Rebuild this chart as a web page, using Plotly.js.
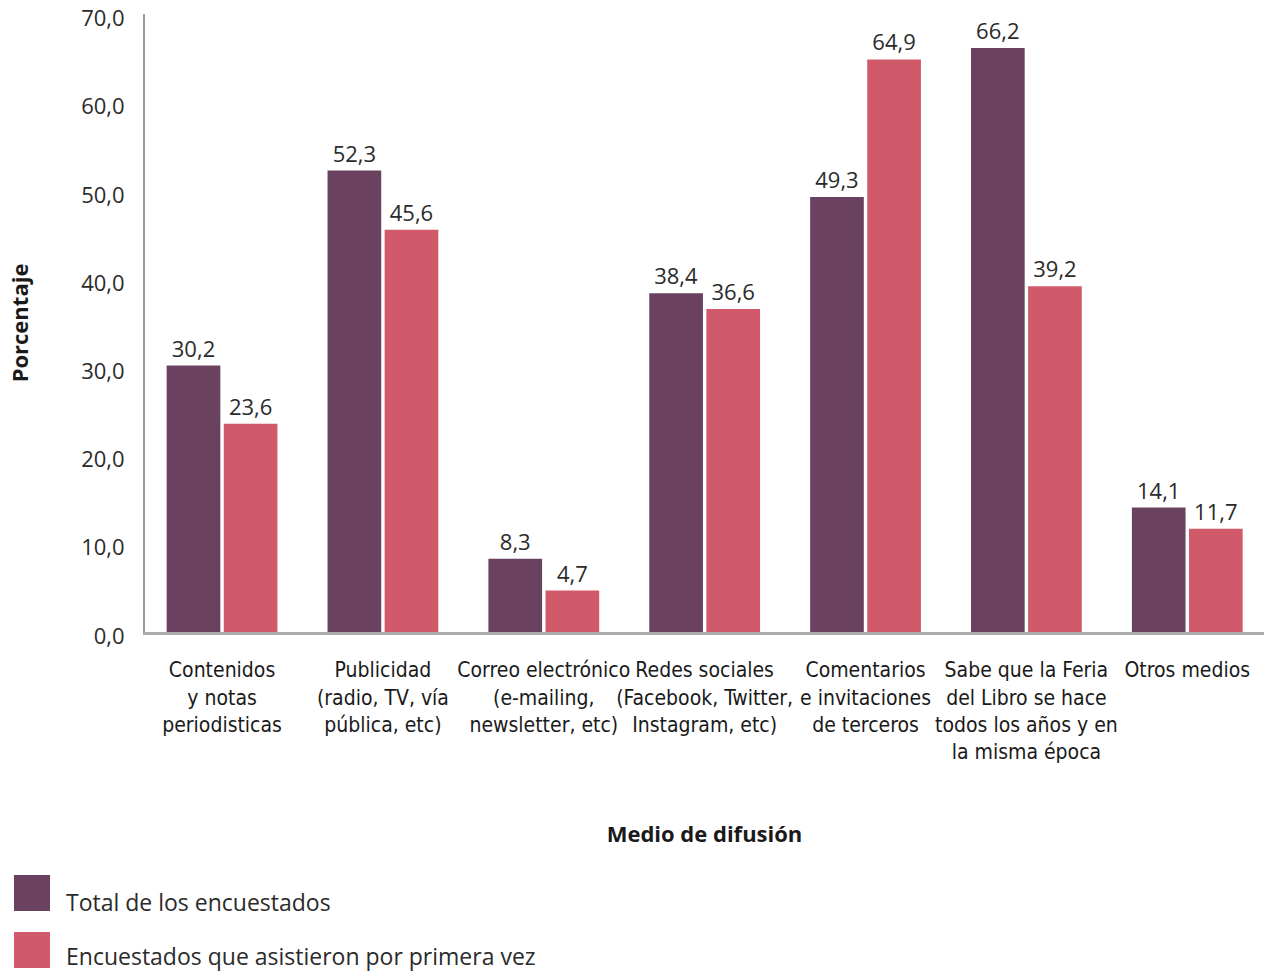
<!DOCTYPE html>
<html>
<head>
<meta charset="utf-8">
<script src="https://cdn.plot.ly/plotly-3.0.1.min.js"></script>
<style>
html,body{margin:0;padding:0;background:#fff;}
.xtick text{font-stretch:condensed;}
</style>
</head>
<body>
<div id="chart" style="width:1264px;height:972px;"></div>
<script>
const categories = [
  "Contenidos<br>y notas<br>periodisticas",
  "Publicidad<br>(radio, TV, vía<br>pública, etc)",
  "Correo electrónico<br>(e-mailing,<br>newsletter, etc)",
  "Redes sociales<br>(Facebook, Twitter,<br>Instagram, etc)",
  "Comentarios<br>e invitaciones<br>de terceros",
  "Sabe que la Feria<br>del Libro se hace<br>todos los años y en<br>la misma época",
  "Otros medios"
];
const seriesNames = ["Total de los encuestados", "Encuestados que asistieron por primera vez"];
const totalValues = [30.2, 52.3, 8.3, 38.4, 49.3, 66.2, 14.1];
const firstTimeValues = [23.6, 45.6, 4.7, 36.6, 64.9, 39.2, 11.7];
const yTickValues = [0, 10, 20, 30, 40, 50, 60, 70];
const xTitle = "Medio de difusión";
const yTitle = "Porcentaje";

const colors = ["#6A4260", "#D05A6A"];
const numFont = "Open Sans, DejaVu Sans, sans-serif";
const condFont = "DejaVu Sans Condensed, DejaVu Sans, sans-serif";

const M = {l: 145, r: 0, t: 14, b: 340};
const W = 1264, H = 972;
const pw = W - M.l - M.r, ph = H - M.t - M.b;
const px = x => (x - M.l) / pw;
const py = y => (H - M.b - y) / ph;

const traces = [totalValues, firstTimeValues].map((vals, i) => ({
  type: "bar",
  name: seriesNames[i],
  x: categories,
  y: vals,
  marker: {color: colors[i]},
  text: vals,
  texttemplate: "%{y:.1f}",
  textposition: "outside",
  textfont: {family: numFont, size: 22, color: "#2b2b2b"},
  cliponaxis: false,
  hoverinfo: "x+y"
}));

const legendShapes = [], legendAnn = [];
const legendBoxTop = [875, 932];
const legendTextMid = [902, 956];
seriesNames.forEach((n, i) => {
  const top = legendBoxTop[i];
  legendShapes.push({type: "rect", xref: "paper", yref: "paper",
    x0: px(14), x1: px(50), y0: py(top + 36), y1: py(top),
    fillcolor: colors[i], line: {width: 0}});
  legendAnn.push({xref: "paper", yref: "paper", x: px(64), y: py(legendTextMid[i]),
    xanchor: "left", yanchor: "middle", showarrow: false, text: n,
    font: {family: numFont, size: 23, color: "#2b2b2b"}});
});

const layout = {
  width: W, height: H,
  margin: M,
  separators: ",.",
  paper_bgcolor: "#fff", plot_bgcolor: "#fff",
  showlegend: false,
  barmode: "group",
  bargap: 0.29,
  bargroupgap: 0.06,
  xaxis: {
    type: "category",
    range: [-0.479, 6.477],
    showline: true, linecolor: "#a9abad", linewidth: 3,
    showgrid: false, zeroline: false, ticks: "", ticklen: 0,
    tickangle: 0,
    ticklabelstandoff: 17,
    tickfont: {family: condFont, size: 21, color: "#1a1a1a"},
    title: {text: xTitle, standoff: 64, font: {family: numFont, size: 22, color: "#1a1a1a", weight: "bold"}},
    automargin: false
  },
  yaxis: {
    range: [0, 70.05],
    tickvals: yTickValues,
    tickformat: ".1f",
    ticklabeloverflow: "allow",
    ticklabelshift: 4,
    showline: true, linecolor: "#9a9a9a", linewidth: 2,
    showgrid: false, zeroline: false, ticks: "",
    ticklabelstandoff: 14,
    tickfont: {family: numFont, size: 22, color: "#2b2b2b"},
    title: {text: yTitle, standoff: 46, font: {family: numFont, size: 22, color: "#1a1a1a", weight: "bold"}},
    automargin: false
  },
  shapes: legendShapes,
  annotations: legendAnn
};

Plotly.newPlot("chart", traces, layout, {displayModeBar: false, staticPlot: true});
</script>
</body>
</html>
